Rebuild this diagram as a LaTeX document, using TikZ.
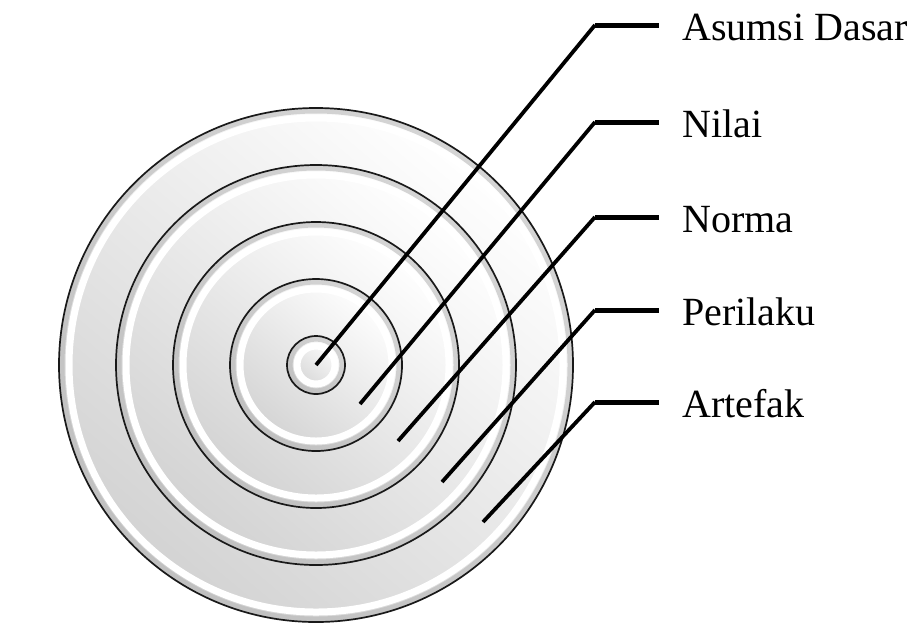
\documentclass[tikz,border=0pt]{standalone}
\usepackage{fontspec}
\setmainfont{Liberation Serif}
\usetikzlibrary{positioning}

\begin{document}
\begin{tikzpicture}[
x=0.5pt, y=-0.5pt,
every node/.style={font=\fontsize{20pt}{24pt}\selectfont},
lbl/.style={inner sep=0pt, anchor=west, text height=13.6pt, text depth=0pt},
leader/.style={line width=1.9pt},
stub/.style={line width=2.5pt},
ring/.style={draw=black!90, line width=0.85pt},
ringshadow/.style={draw=gray!60, line width=2.5pt, opacity=.55},
ringlight/.style={draw=white, line width=3.5pt}
]
\useasboundingbox (0,0) rectangle (913,622);

% Centre of the rings
\coordinate (c) at (316,365);

% Rings, outermost first
\foreach \r in {257,200,143,86,29}{
  \shade[top color=white, bottom color=gray!35, shading angle=-40] (c) circle[radius=\r];
  \draw[ringshadow] (c) circle[radius=\r-3];
  \draw[ringlight] (c) circle[radius=\r-10];
  \draw[ring] (c) circle[radius=\r];
}

% Labels
\node[lbl] (asumsi) at (682,27) {Asumsi Dasar};
\node[lbl] (nilai) at (682,124) {Nilai};
\node[lbl] (norma) at (682,219) {Norma};
\node[lbl] (perilaku) at (682,312) {Perilaku};
\node[lbl] (artefak) at (682,404) {Artefak};

% Leader start points and knees
\coordinate (s1) at (316,365);
\coordinate (s2) at (360,404);
\coordinate (s3) at (398,441);
\coordinate (s4) at (442,482);
\coordinate (s5) at (483,522);
\coordinate (k1) at (595,25);
\coordinate (k2) at (595,122);
\coordinate (k3) at (595,217);
\coordinate (k4) at (595,310);
\coordinate (k5) at (595,402);

% Leaders
\draw[leader] (s1) -- (k1);
\draw[stub,shorten >=11.5pt] (k1) -- (k1 -| asumsi.west);

\draw[leader] (s2) -- (k2);
\draw[stub,shorten >=11.5pt] (k2) -- (k2 -| nilai.west);

\draw[leader] (s3) -- (k3);
\draw[stub,shorten >=11.5pt] (k3) -- (k3 -| norma.west);

\draw[leader] (s4) -- (k4);
\draw[stub,shorten >=11.5pt] (k4) -- (k4 -| perilaku.west);

\draw[leader] (s5) -- (k5);
\draw[stub,shorten >=11.5pt] (k5) -- (k5 -| artefak.west);

\end{tikzpicture}
\end{document}
